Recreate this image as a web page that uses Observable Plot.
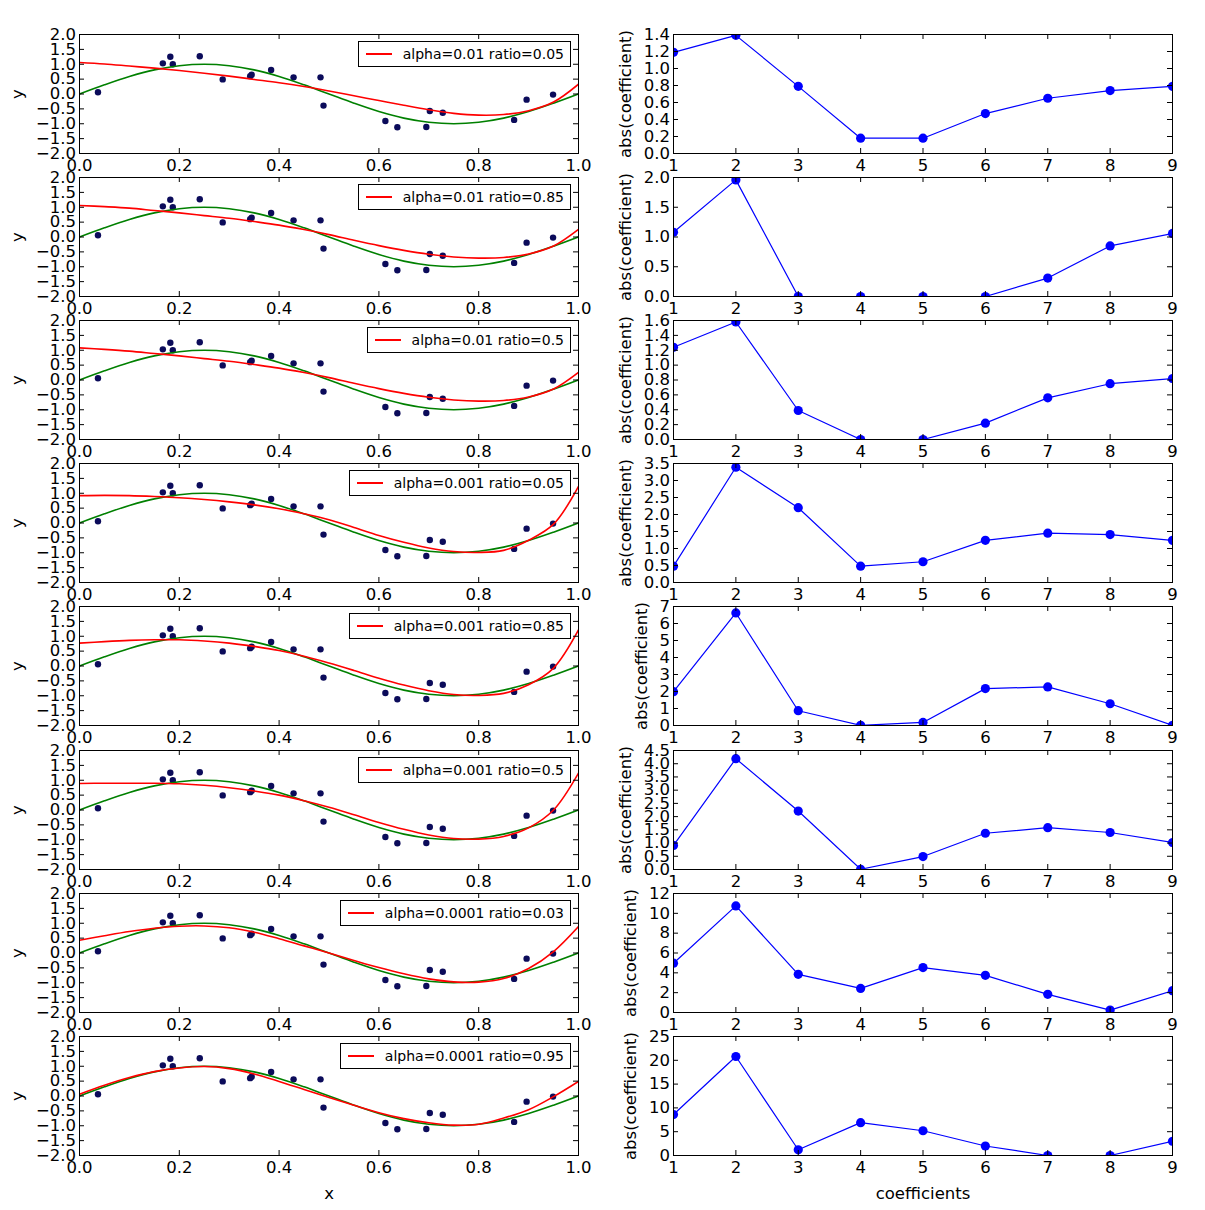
<!DOCTYPE html>
<html><head><meta charset="utf-8">
<script src="https://cdn.jsdelivr.net/npm/d3@7"></script>
<script src="https://cdn.jsdelivr.net/npm/@observablehq/plot@0.6"></script>
<style>
body{margin:0;background:#fff;}
#fig{position:relative;width:1205px;height:1210px;background:#fff;font-family:"DejaVu Sans",sans-serif;overflow:hidden;}
#fig svg{position:absolute;}
.legend{position:absolute;display:flex;align-items:center;border:1px solid #000;background:#fff;padding:4px 6px 4px 7px;font:14px "DejaVu Sans",sans-serif;line-height:16px;white-space:nowrap;}
.legend .sw{display:inline-block;width:26px;height:2px;background:#ff0000;margin-right:11px;}
</style></head><body><div id="fig"></div><script>
// ---------- data ----------
const sampleX = [0.037,0.167,0.182,0.187,0.241,0.287,0.342,0.345,0.384,0.429,0.483,0.489,0.613,0.637,0.695,0.702,0.728,0.871,0.896,0.949];
const sampleY = [0.06,1.03,1.25,1.00,1.27,0.49,0.60,0.65,0.81,0.56,0.56,-0.39,-0.91,-1.12,-1.11,-0.57,-0.63,-0.87,-0.19,-0.02];

const curveX = [0,0.05,0.1,0.15,0.2,0.25,0.3,0.35,0.4,0.45,0.5,0.55,0.6,0.65,0.7,0.75,0.8,0.85,0.9,0.95,1.0];
const trueY  = [0,0.31,0.59,0.81,0.95,1.0,0.95,0.81,0.59,0.31,0,-0.31,-0.59,-0.81,-0.95,-1.0,-0.95,-0.81,-0.59,-0.31,0];

const fit1 = [1.06,1.01,0.94,0.87,0.79,0.70,0.60,0.49,0.38,0.25,0.10,-0.06,-0.22,-0.38,-0.53,-0.65,-0.71,-0.69,-0.56,-0.27,0.33];
const fit2 = [1.06,1.02,0.97,0.89,0.81,0.72,0.63,0.52,0.40,0.25,0.08,-0.11,-0.29,-0.45,-0.58,-0.67,-0.71,-0.69,-0.57,-0.30,0.26];
const fit3 = [1.08,1.03,0.97,0.89,0.81,0.72,0.63,0.52,0.40,0.25,0.08,-0.11,-0.29,-0.45,-0.58,-0.67,-0.71,-0.69,-0.57,-0.30,0.26];
const fit4 = [0.92,0.93,0.92,0.89,0.85,0.79,0.71,0.61,0.48,0.31,0.11,-0.15,-0.42,-0.65,-0.84,-0.96,-0.99,-0.92,-0.58,-0.04,1.23];
const fit5 = [0.77,0.82,0.86,0.88,0.88,0.84,0.77,0.66,0.52,0.33,0.10,-0.15,-0.41,-0.64,-0.83,-0.96,-0.99,-0.92,-0.63,-0.07,1.21];
const fit6 = [0.89,0.90,0.90,0.90,0.88,0.83,0.75,0.64,0.50,0.31,0.09,-0.16,-0.42,-0.65,-0.84,-0.96,-0.98,-0.89,-0.60,0.00,1.24];
const fit7 = [0.43,0.58,0.72,0.83,0.90,0.91,0.85,0.70,0.48,0.24,0.00,-0.25,-0.49,-0.70,-0.87,-0.97,-0.98,-0.86,-0.52,0.05,0.89];
const fit8 = [0.06,0.36,0.62,0.82,0.94,0.99,0.92,0.74,0.49,0.22,-0.05,-0.31,-0.56,-0.76,-0.90,-0.98,-0.95,-0.74,-0.46,-0.02,0.49];

const legendLabels = ["alpha=0.01 ratio=0.05","alpha=0.01 ratio=0.85","alpha=0.01 ratio=0.5",
  "alpha=0.001 ratio=0.05","alpha=0.001 ratio=0.85","alpha=0.001 ratio=0.5",
  "alpha=0.0001 ratio=0.03","alpha=0.0001 ratio=0.95"];

const coefIndex = [1,2,3,4,5,6,7,8,9];
const coef1 = [1.19,1.39,0.79,0.18,0.18,0.47,0.65,0.74,0.79];
const coef2 = [1.08,1.96,0.00,0.00,0.00,0.00,0.31,0.85,1.06];
const coef3 = [1.24,1.58,0.39,0.00,0.00,0.22,0.56,0.75,0.82];
const coef4 = [0.48,3.39,2.20,0.48,0.61,1.24,1.45,1.41,1.24];
const coef5 = [1.99,6.62,0.87,0.01,0.18,2.17,2.27,1.28,0.01];
const coef6 = [0.91,4.19,2.21,0.01,0.49,1.37,1.58,1.40,1.02];
const coef7 = [4.97,10.75,3.85,2.43,4.53,3.75,1.83,0.24,2.20];
const coef8 = [8.6,20.8,1.2,6.9,5.2,2.0,0.0,0.0,3.0];

const xTicksLeft = [0,0.2,0.4,0.6,0.8,1.0];
const yTicksLeft = [-2,-1.5,-1,-0.5,0,0.5,1,1.5,2];
const coefTicks1 = [0,0.2,0.4,0.6,0.8,1.0,1.2,1.4];
const coefTicks2 = [0,0.5,1.0,1.5,2.0];
const coefTicks3 = [0,0.2,0.4,0.6,0.8,1.0,1.2,1.4,1.6];
const coefTicks4 = [0,0.5,1.0,1.5,2.0,2.5,3.0,3.5];
const coefTicks5 = [0,1,2,3,4,5,6,7];
const coefTicks6 = [0,0.5,1.0,1.5,2.0,2.5,3.0,3.5,4.0,4.5];
const coefTicks7 = [0,2,4,6,8,10,12];
const coefTicks8 = [0,5,10,15,20,25];
const coefDecimals = [1,1,1,1,0,1,0,0];

// ---------- layout ----------
const fits = [fit1,fit2,fit3,fit4,fit5,fit6,fit7,fit8];
const coefs = [coef1,coef2,coef3,coef4,coef5,coef6,coef7,coef8];
const coefTicks = [coefTicks1,coefTicks2,coefTicks3,coefTicks4,coefTicks5,coefTicks6,coefTicks7,coefTicks8];

const FONT = 16.5;
const plotH = 119, plotW = 499;
const leftX = 79, rightX = 673;
const rowTop0 = 34, rowPitch = 143.1;
const mT = 10, mB = 30, mR = 20;
const fig = document.getElementById("fig");
const baseStyle = {fontSize: FONT + "px", fontFamily: "DejaVu Sans", background: "transparent", overflow: "visible", color: "black"};

const fmtNum = (d, dec) => (d < 0 ? "\u2212" : "") + Math.abs(d).toFixed(dec);
function charW(s){ let w = 0; for (const c of String(s)) w += c === "." ? 0.318 : c === "\u2212" ? 0.838 : 0.636; return w * FONT; }

function frameMarks(xt, yt){
  return [
    Plot.tickX(xt, {x: d => d, insetTop: plotH - 5, stroke: "black"}),
    Plot.tickX(xt, {x: d => d, insetBottom: plotH - 5, stroke: "black"}),
    Plot.tickY(yt, {y: d => d, insetRight: plotW - 5, stroke: "black"}),
    Plot.tickY(yt, {y: d => d, insetLeft: plotW - 5, stroke: "black"}),
    Plot.frame({stroke: "black", strokeWidth: 1})
  ];
}
function label(txt, anchor, dx, dy, rot){
  return Plot.text([txt], {frameAnchor: anchor, dx, dy, rotate: rot, text: d => d,
    textAnchor: "middle", lineAnchor: "middle"});
}

const points = sampleX.map((x, i) => ({x, y: sampleY[i]}));
const truth = curveX.map((x, i) => ({x, y: trueY[i]}));

for (let r = 0; r < 8; r++) {
  const top = Math.round(rowTop0 + r * rowPitch);
  const last = r === 7;
  const bottomMargin = last ? 60 : mB;

  // ----- left panel -----
  const fit = curveX.map((x, i) => ({x, y: fits[r][i]}));
  const leftLabW = Math.max(...yTicksLeft.map(d => charW(fmtNum(d, 1))));
  const leftMarks = [
    Plot.dot(points, {x: "x", y: "y", r: 3.2, fill: "#0b0b5a", stroke: "none"}),
    Plot.line(truth, {x: "x", y: "y", stroke: "#008000", strokeWidth: 1.6, curve: "catmull-rom", clip: true}),
    Plot.line(fit, {x: "x", y: "y", stroke: "#ff0000", strokeWidth: 1.6, curve: "catmull-rom", clip: true}),
    ...frameMarks(xTicksLeft, yTicksLeft),
    Plot.axisX(xTicksLeft, {tickSize: 0, tickPadding: 6, label: null, tickFormat: d => fmtNum(d, 1)}),
    Plot.axisY(yTicksLeft, {tickSize: 0, tickPadding: 3.5, label: null, tickFormat: d => fmtNum(d, 1)}),
    label("y", "left", -(leftLabW + 21.5), 0, -90)
  ];
  if (last) leftMarks.push(label("x", "bottom", 0, 38, 0));
  const left = Plot.plot({
    width: leftX + plotW + mR, height: mT + plotH + bottomMargin,
    marginLeft: leftX, marginRight: mR, marginTop: mT, marginBottom: bottomMargin,
    x: {domain: [0, 1]}, y: {domain: [-2, 2]},
    style: baseStyle,
    marks: leftMarks
  });
  left.style.left = "0px"; left.style.top = (top - mT) + "px";
  fig.appendChild(left);

  // legend
  const lg = document.createElement("div");
  lg.className = "legend";
  lg.innerHTML = '<span class="sw"></span><span></span>';
  lg.lastChild.textContent = legendLabels[r];
  lg.style.top = (top + 7) + "px";
  lg.style.right = (1205 - (leftX + plotW) + 7) + "px";
  fig.appendChild(lg);

  // ----- right panel -----
  const ct = coefTicks[r];
  const dec = coefDecimals[r];
  const fmt = d => fmtNum(d, dec);
  const labW = Math.max(...ct.map(d => charW(fmt(d))));
  const cdata = coefIndex.map((c, i) => ({c, v: coefs[r][i]}));
  const rightMarks = [
    Plot.line(cdata, {x: "c", y: "v", stroke: "#0000ff", strokeWidth: 1.2, clip: true}),
    Plot.dot(cdata, {x: "c", y: "v", r: 4.6, fill: "#0000ff", stroke: "none", clip: true}),
    ...frameMarks(coefIndex, ct),
    Plot.axisX(coefIndex, {tickSize: 0, tickPadding: 6, label: null, tickFormat: d => String(d)}),
    Plot.axisY(ct, {tickSize: 0, tickPadding: 3.5, label: null, tickFormat: fmt}),
    label("abs(coefficient)", "left", -(labW + 21.5), 0, -90)
  ];
  if (last) rightMarks.push(label("coefficients", "bottom", 0, 38, 0));
  const right = Plot.plot({
    width: rightX - 600 + plotW + mR, height: mT + plotH + bottomMargin,
    marginLeft: rightX - 600, marginRight: mR, marginTop: mT, marginBottom: bottomMargin,
    x: {domain: [1, 9]}, y: {domain: [0, ct[ct.length - 1]]},
    style: baseStyle,
    marks: rightMarks
  });
  right.style.left = "600px"; right.style.top = (top - mT) + "px";
  fig.appendChild(right);
}
</script></body></html>
